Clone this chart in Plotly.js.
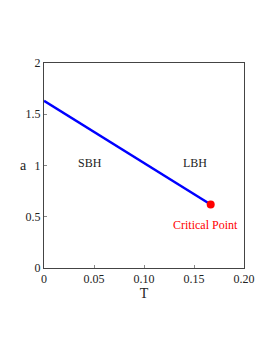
<!DOCTYPE html>
<html>
<head>
<meta charset="utf-8">
<script src="https://cdn.plot.ly/plotly-3.0.1.min.js"></script>
<style>html,body{margin:0;padding:0;background:#fff;}#chart{width:274px;height:355px;}</style>
</head>
<body>
<div id="chart"></div>
<script>
const T = [0, 0.046, 0.096, 0.146, 0.1667];
const a = [1.632, 1.355, 1.052, 0.746, 0.62];
const criticalT = [0.1667];
const criticalA = [0.62];
const xTickVals = [0, 0.05, 0.10, 0.15, 0.20];
const xTickText = ["0", "0.05", "0.10", "0.15", "0.20"];
const yTickVals = [0, 0.5, 1, 1.5, 2];
const yTickText = ["0", "0.5", "1", "1.5", "2"];
const labels = [
  {x: 0.0455, y: 1.02, text: "SBH", color: "#222"},
  {x: 0.151, y: 1.02, text: "LBH", color: "#222"},
  {x: 0.161, y: 0.42, text: "Critical Point", color: "#ff0000"}
];
const font = "'Liberation Serif', serif";
const anns = labels.map(l => ({x: l.x, y: l.y, text: l.text, showarrow: false, xref: "x", yref: "y",
    font: {family: font, size: 12, color: l.color}}));
anns.push({x: -0.13, y: 1, xref: "paper", yref: "y", text: "a", showarrow: false,
  font: {family: font, size: 14, color: "#222"}});
Plotly.newPlot("chart", [
  {x: T, y: a, mode: "lines", line: {color: "#0000ff", width: 2.5}, hoverinfo: "none"},
  {x: criticalT, y: criticalA, mode: "markers", marker: {color: "#ff0000", size: 8}, hoverinfo: "none"}
], {
  width: 274, height: 355,
  margin: {l: 44, r: 30, t: 63, b: 87},
  showlegend: false,
  paper_bgcolor: "#fff", plot_bgcolor: "#fff",
  font: {family: font, size: 12, color: "#222"},
  xaxis: {range: [0, 0.2], tickvals: xTickVals, ticktext: xTickText, ticks: "inside", ticklen: 3,
    tickcolor: "#888", showgrid: false, zeroline: false, showline: true, linecolor: "#444", linewidth: 1, mirror: true,
    title: {text: "T", font: {family: font, size: 14}, standoff: 0}, tickfont: {family: font, size: 12}},
  yaxis: {range: [0, 2], tickvals: yTickVals, ticktext: yTickText, ticks: "inside", ticklen: 3,
    tickcolor: "#888", showgrid: false, zeroline: false, showline: true, linecolor: "#444", linewidth: 1, mirror: true,
    tickfont: {family: font, size: 12}},
  annotations: anns
}, {staticPlot: true});
</script>
</body>
</html>
